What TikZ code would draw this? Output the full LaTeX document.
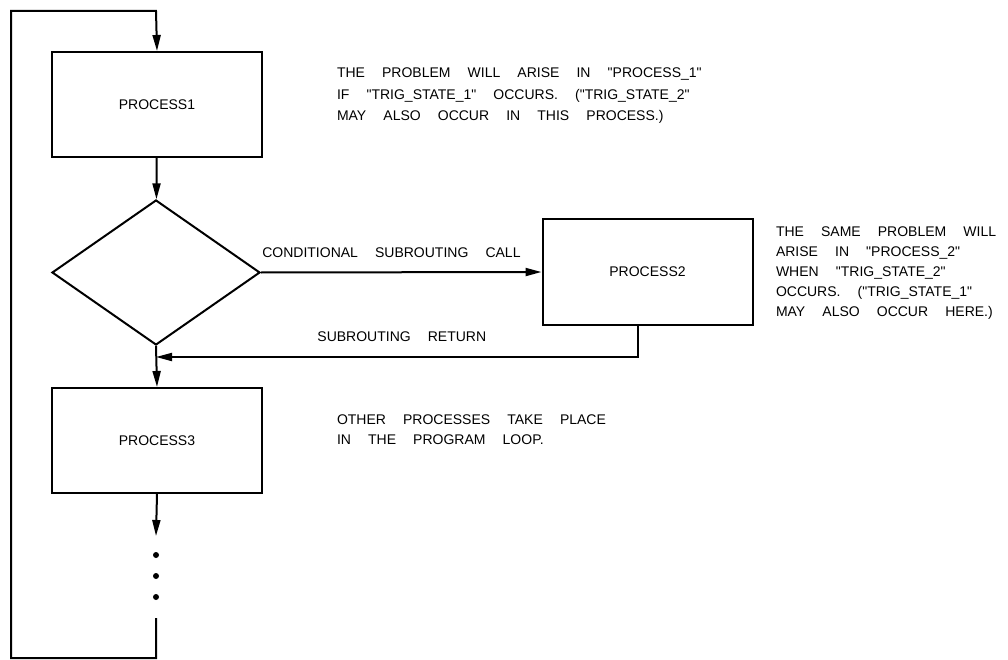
\documentclass[tikz,border=0pt]{standalone}
\usepackage{fontspec}
\setmainfont{Liberation Sans}[WordSpace=4.4,Ligatures=TeXOff]
\usetikzlibrary{shapes.geometric,arrows.meta}
\begin{document}
\begin{tikzpicture}[x=1pt,y=-1pt,line width=2pt]

    \tikzset{boxstyle/.style={draw,rectangle,minimum width=210pt,minimum height=105pt,inner sep=0pt,font=\fontsize{14}{20}\selectfont}}
    \tikzset{decstyle/.style={draw,diamond,minimum width=208pt,minimum height=145pt,inner sep=0pt}}
    \tikzset{notestyle/.style={anchor=north west,align=left,inner sep=0pt,font=\fontsize{14}{20}\selectfont}}
    \tikzset{labelstyle/.style={font=\fontsize{14}{20}\selectfont}}
    \tikzset{arr/.style={-{Triangle[length=16pt,width=8pt]}}}
    \tikzset{dotstyle/.style={circle,fill,inner sep=0pt,minimum size=6pt}}

    \useasboundingbox (0,0) rectangle (1008,660);

    \node[boxstyle] (p1) at (157,104.5) {PROCESS1};
    \node[decstyle] (d1) at (156,272.5) {};
    \node[boxstyle] (p2) at (647.5,272) {PROCESS2};
    \node[boxstyle] (p3) at (157,440.5) {PROCESS3};

    \node[dotstyle] (dot1) at (156,555) {};
    \node[dotstyle] (dot2) at (156,576) {};
    \node[dotstyle] (dot3) at (156,597) {};

    \coordinate (ret) at (156,357);
    \coordinate (p3out) at (156,536);
    \coordinate (loopin) at (156,618);
    \coordinate (bl) at (11,658);
    \coordinate (tl) at (11,11);
    \coordinate (top) at (156,11);

    \node[notestyle,font=\fontsize{14}{21.5}\selectfont] (n1) at (336,67) {THE PROBLEM WILL ARISE IN "PROCESS\_1"\\IF "TRIG\_STATE\_1" OCCURS. ("TRIG\_STATE\_2"\\MAY ALSO OCCUR IN THIS PROCESS.)};
    \node[notestyle] (n2) at (775,226) {THE SAME PROBLEM WILL\\ARISE IN "PROCESS\_2"\\WHEN "TRIG\_STATE\_2"\\OCCURS. ("TRIG\_STATE\_1"\\MAY ALSO OCCUR HERE.)};
    \node[notestyle] (n3) at (336,414) {OTHER PROCESSES TAKE PLACE\\IN THE PROGRAM LOOP.};

    \draw[arr] (p1) -- (d1);
    \draw[arr] (d1.east) -- (p2.west) node[above,pos=0.465,yshift=10pt,labelstyle]{CONDITIONAL SUBROUTING CALL};
    \draw[arr] ([xshift=-9.5pt]p2.south) |- (ret) node[above,pos=0.745,yshift=11pt,labelstyle]{SUBROUTING RETURN};
    \draw[arr] (d1.south) -- (p3.north);
    \draw[arr] (p3.south) -- (p3out);
    \draw[arr] (loopin) -- (loopin |- bl) -- (bl) -- (tl) -- (top) -- (p1.north);

\end{tikzpicture}
\end{document}
